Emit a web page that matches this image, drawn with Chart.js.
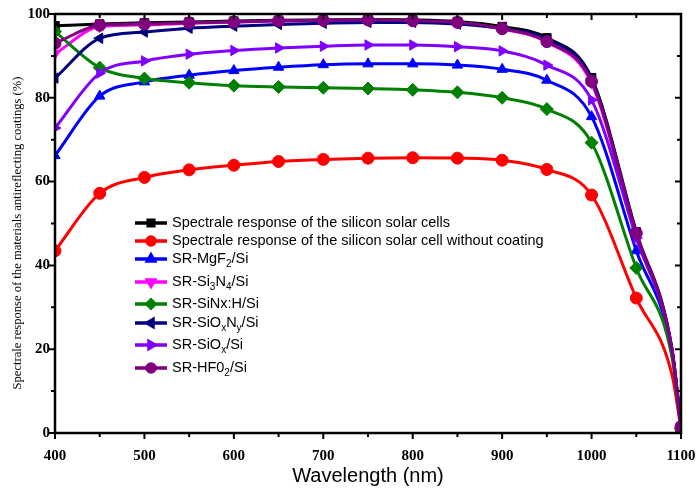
<!DOCTYPE html>
<html lang="en">
<head>
  <meta charset="UTF-8">
  <title>Spectral response</title>
  <script src="https://cdn.jsdelivr.net/npm/chart.js"></script>
  <style>
    body { margin: 0; background: #fff; }
    #wrap { width: 697px; height: 490px; }
  </style>
</head>
<body>
  <div id="wrap"><canvas id="chart" width="697" height="490"></canvas></div>
  <script>
    // wavelengths (nm); 1090 is a knee point without marker
    const wavelengths = [400, 450, 500, 550, 600, 650, 700, 750, 800, 850, 900, 950, 1000, 1050, 1090, 1100];
    const xTicks = [400, 500, 600, 700, 800, 900, 1000, 1100];
    const yTicks = [0, 20, 40, 60, 80, 100];

    const srCell     = [97.2, 97.6, 97.9, 98.1, 98.3, 98.5, 98.6, 98.7, 98.6, 98.2, 97.0, 94.3, 84.8, 48.0, 20.0, 1.5];
    const srNoCoat   = [43.5, 57.2, 61.0, 62.8, 63.9, 64.8, 65.3, 65.6, 65.7, 65.6, 65.1, 62.9, 56.8, 32.2, 13.8, 1.0];
    const srMgF2     = [66.2, 80.4, 83.8, 85.4, 86.5, 87.3, 87.9, 88.1, 88.1, 87.8, 86.8, 84.2, 75.5, 43.5, 19.0, 1.0];
    const srSi3N4    = [90.5, 97.0, 97.4, 97.8, 98.1, 98.3, 98.4, 98.5, 98.3, 97.9, 96.4, 93.3, 83.5, 47.2, 19.8, 1.5];
    const srSiNxH    = [95.8, 87.2, 84.6, 83.6, 82.9, 82.6, 82.4, 82.2, 81.9, 81.3, 80.0, 77.3, 69.3, 39.4, 18.0, 1.0];
    const srSiOxNy   = [84.7, 94.2, 95.7, 96.6, 97.1, 97.5, 97.8, 98.0, 98.0, 97.6, 96.5, 94.0, 84.5, 47.5, 19.8, 1.5];
    const srSiOx     = [72.8, 85.9, 88.8, 90.4, 91.3, 91.9, 92.3, 92.6, 92.6, 92.2, 91.2, 87.8, 79.5, 46.5, 19.5, 1.5];
    const srHfO2     = [93.0, 97.3, 97.6, 97.9, 98.1, 98.4, 98.5, 98.6, 98.4, 98.0, 96.5, 93.4, 83.9, 47.7, 19.8, 1.5];

    const yTitle = 'Spectrale response of the materials antireflecting coatings (%)';
    const seriesNames = [
      'Spectrale response of the silicon solar cells',
      'Spectrale response of the silicon solar cell without coating',
      'SR-MgF_2/Si',
      'SR-Si_3N_4/Si',
      'SR-SiNx:H/Si',
      'SR-SiO_xN_y/Si',
      'SR-SiO_x/Si',
      'SR-HF0_2/Si'
    ];
    const seriesValues = [srCell, srNoCoat, srMgF2, srSi3N4, srSiNxH, srSiOxNy, srSiOx, srHfO2];
    const seriesColors = ['#000000', '#ff0000', '#0000ff', '#ff00ff', '#008000', '#000080', '#8000ff', '#800080'];
    const markerStyles = ['rect', 'circle', 'triangle', 'triangle', 'rectRot', 'triangle', 'triangle', 'circle'];
    const markerRotations = [0, 0, 0, 180, 0, -90, 90, 0];

    const datasets = seriesValues.map((vals, i) => ({
      label: seriesNames[i],
      data: vals.map((v, j) => ({ x: wavelengths[j], y: v })),
      borderColor: seriesColors[i],
      backgroundColor: seriesColors[i],
      borderWidth: 3,
      pointStyle: markerStyles[i],
      rotation: markerRotations[i],
      pointRadius: ctx => (ctx.raw && ctx.raw.x === 1090 ? 0 : (markerStyles[i] === 'rectRot' ? 6.5 : 6)),
      pointBorderWidth: 1,
      cubicInterpolationMode: 'monotone',
      order: seriesValues.length - 1 - i
    }));

    // draws the frame, all tick marks (Origin style) and the y title
    const framePlugin = {
      id: 'frame',
      afterDatasetsDraw(chart) {
        const { ctx, chartArea: a, scales: { x, y } } = chart;
        ctx.save();
        ctx.strokeStyle = '#000';
        ctx.lineWidth = 2.5;
        ctx.strokeRect(a.left, a.top, a.right - a.left, a.bottom - a.top);
        ctx.lineWidth = 2;
        ctx.beginPath();
        for (let w = 400; w <= 1100; w += 50) {
          const px = x.getPixelForValue(w);
          const len = w % 100 === 0 ? 6 : 4;
          ctx.moveTo(px, a.bottom); ctx.lineTo(px, a.bottom + len);
          ctx.moveTo(px, a.top); ctx.lineTo(px, a.top + len);
        }
        for (let v = 0; v <= 100; v += 10) {
          const py = y.getPixelForValue(v);
          const len = v % 20 === 0 ? 6 : 4;
          ctx.moveTo(a.left, py); ctx.lineTo(a.left - len, py);
          ctx.moveTo(a.right, py); ctx.lineTo(a.right - len, py);
        }
        ctx.stroke();

        // y title, a bit below the axis middle as in the original
        ctx.translate(18, 233);
        ctx.rotate(-Math.PI / 2);
        ctx.fillStyle = '#000';
        ctx.font = '12.6px "Liberation Serif", "Times New Roman", serif';
        ctx.textAlign = 'center';
        ctx.textBaseline = 'middle';
        ctx.fillText(yTitle, 0, 0);
        ctx.restore();
      }
    };

    // legend with subscripts
    const legendPlugin = {
      id: 'subLegend',
      afterDraw(chart) {
        const ctx = chart.ctx;
        const rows = [223, 241, 259, 282, 304, 323, 345, 368];
        ctx.save();
        seriesNames.forEach((name, i) => {
          const yy = rows[i];
          ctx.strokeStyle = seriesColors[i];
          ctx.fillStyle = seriesColors[i];
          ctx.lineWidth = 3.5;
          ctx.beginPath();
          ctx.moveTo(135, yy); ctx.lineTo(167, yy);
          ctx.stroke();
          Chart.helpers.drawPoint(ctx, { pointStyle: markerStyles[i], rotation: markerRotations[i], radius: 4, borderWidth: 1 }, 151, yy);
          let tx = 172;
          ctx.fillStyle = '#000';
          ctx.textBaseline = 'middle';
          for (let k = 0; k < name.length; k++) {
            const ch = name[k];
            if (ch === '_') {
              const s = name[k + 1];
              ctx.font = '10px "Liberation Sans", Arial, sans-serif';
              ctx.fillText(s, tx, yy + 5);
              tx += ctx.measureText(s).width;
              k++;
            } else {
              ctx.font = '14.5px "Liberation Sans", Arial, sans-serif';
              ctx.fillText(ch, tx, yy);
              tx += ctx.measureText(ch).width;
            }
          }
        });
        ctx.restore();
      }
    };

    new Chart(document.getElementById('chart').getContext('2d'), {
      type: 'line',
      data: { datasets },
      plugins: [framePlugin, legendPlugin],
      options: {
        responsive: false,
        animation: false,
        layout: { padding: { top: 14, right: 16, left: 0, bottom: 0 } },
        plugins: { legend: { display: false }, tooltip: { enabled: false } },
        scales: {
          x: {
            type: 'linear',
            min: 400,
            max: 1100,
            afterBuildTicks: s => { s.ticks = xTicks.map(v => ({ value: v })); },
            afterFit: s => { s.height = 57; s.paddingRight = 0; s.paddingLeft = 0; },
            grid: { display: false, tickLength: 5 },
            border: { display: false },
            ticks: {
              padding: 9,
              color: '#000',
              callback: v => String(v),
              font: { family: '"Liberation Serif", "Times New Roman", serif', size: 15, weight: 'bold' }
            },
            title: {
              display: true,
              text: 'Wavelength (nm)',
              color: '#000',
              padding: { top: 0, bottom: 2 },
              font: { family: '"Liberation Sans", Arial, sans-serif', size: 20 }
            }
          },
          y: {
            min: 0,
            max: 100,
            afterBuildTicks: s => { s.ticks = yTicks.map(v => ({ value: v })); },
            afterFit: s => { s.width = 55; },
            grid: { display: false, tickLength: 5 },
            border: { display: false },
            ticks: {
              padding: 0,
              color: '#000',
              callback: v => String(v),
              font: { family: '"Liberation Serif", "Times New Roman", serif', size: 15, weight: 'bold' }
            },
            title: { display: false }
          }
        }
      }
    });
  </script>
</body>
</html>
